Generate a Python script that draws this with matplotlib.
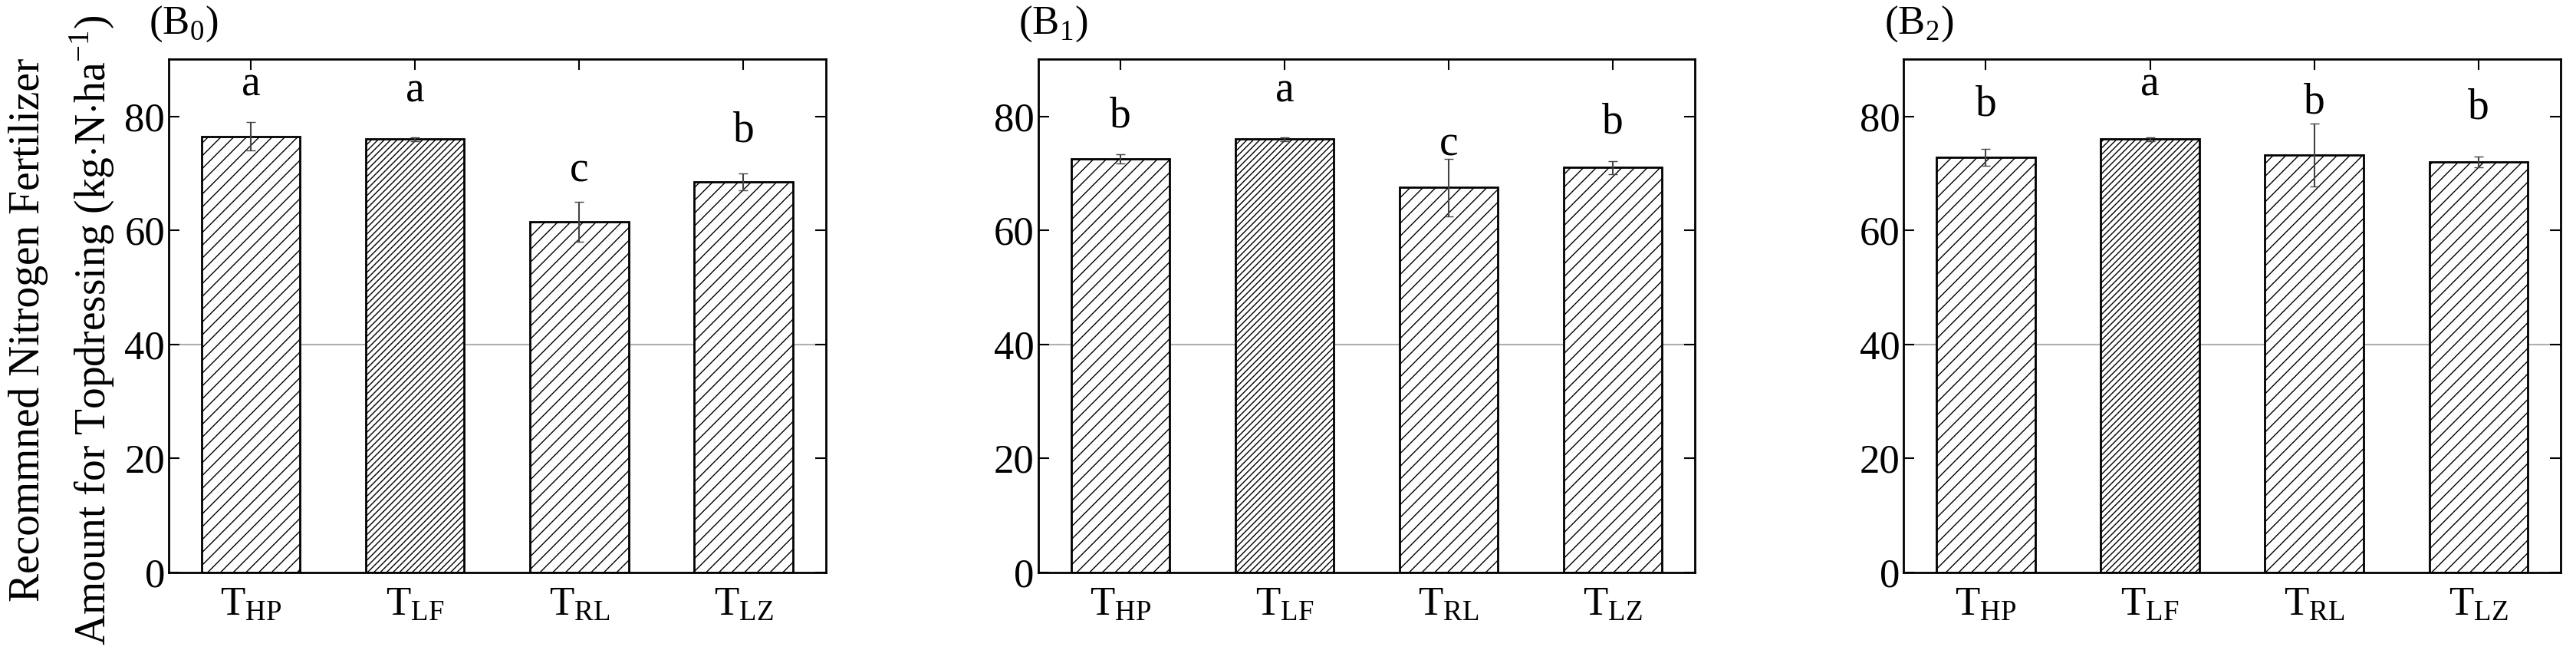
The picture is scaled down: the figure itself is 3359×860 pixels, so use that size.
import numpy as np
import matplotlib
matplotlib.use('Agg')
import matplotlib.pyplot as plt

plt.rcParams['font.family'] = ['Liberation Serif', 'DejaVu Serif']
plt.rcParams['mathtext.fontset'] = 'custom'
plt.rcParams['mathtext.rm'] = 'Liberation Serif'
plt.rcParams['hatch.linewidth'] = 1.0

sites = [r'$\mathregular{T_{HP}}$', r'$\mathregular{T_{LF}}$', r'$\mathregular{T_{RL}}$', r'$\mathregular{T_{LZ}}$']
panel_names = [r'(B$_0$)', r'(B$_1$)', r'(B$_2$)']

b0_vals = [76.5, 76.0, 61.5, 68.5]
b0_err = [2.5, 0.3, 3.5, 1.5]
b0_letters = ['a', 'a', 'c', 'b']
b0_letter_y = [85.5, 84.5, 70.5, 77.5]

b1_vals = [72.5, 76.0, 67.5, 71.0]
b1_err = [0.8, 0.3, 5.0, 1.2]
b1_letters = ['b', 'a', 'c', 'b']
b1_letter_y = [80.0, 84.5, 75.0, 79.0]

b2_vals = [72.8, 76.0, 73.2, 72.0]
b2_err = [1.5, 0.3, 5.5, 1.0]
b2_letters = ['b', 'a', 'b', 'b']
b2_letter_y = [82.0, 85.5, 82.5, 81.5]

hatches = ['//', '////', '//', '//']

data = [(b0_vals, b0_err, b0_letters, b0_letter_y),
        (b1_vals, b1_err, b1_letters, b1_letter_y),
        (b2_vals, b2_err, b2_letters, b2_letter_y)]

fig = plt.figure(figsize=(33.59, 8.6), dpi=100)
lefts = [0.0655, 0.403, 0.739]
x = np.arange(len(sites))

for i, (vals, err, letters, ly) in enumerate(data):
    ax = fig.add_axes([lefts[i], 0.133, 0.255, 0.777])
    ax.axhline(40, color='#b0b0b0', lw=1.5, zorder=0)
    bars = ax.bar(x, vals, width=0.6, color='white', edgecolor='black', lw=2, zorder=2)
    for b, h in zip(bars, hatches):
        b.set_hatch(h)
    ax.errorbar(x, vals, yerr=err, fmt='none', ecolor='#444444', elinewidth=1.5, capsize=4, zorder=3)
    for xi, l, y in zip(x, letters, ly):
        ax.text(xi, y, l, ha='center', va='center', fontsize=40)
    ax.set_xlim(-0.5, 3.5)
    ax.set_ylim(0, 90)
    ax.set_yticks([0, 20, 40, 60, 80])
    ax.set_xticks(x)
    ax.set_xticklabels(sites)
    ax.tick_params(axis='both', direction='in', labelsize=38, length=10, width=1.5,
                   top=True, right=True)
    ax.tick_params(axis='x', pad=14)
    for s in ax.spines.values():
        s.set_linewidth(2)
    ax.text(-0.03, 1.03, panel_names[i], transform=ax.transAxes, fontsize=38,
            ha='left', va='bottom')

fig.text(0.011, 0.5, 'Recommned Nitrogen Fertilizer', rotation=90, ha='center', va='center', fontsize=40)
fig.text(0.036, 0.5, r'Amount for Topdressing (kg$\cdot$N$\cdot$ha$^{-1}$)', rotation=90,
         ha='center', va='center', fontsize=40)

fig.savefig('out.png', dpi=100)
